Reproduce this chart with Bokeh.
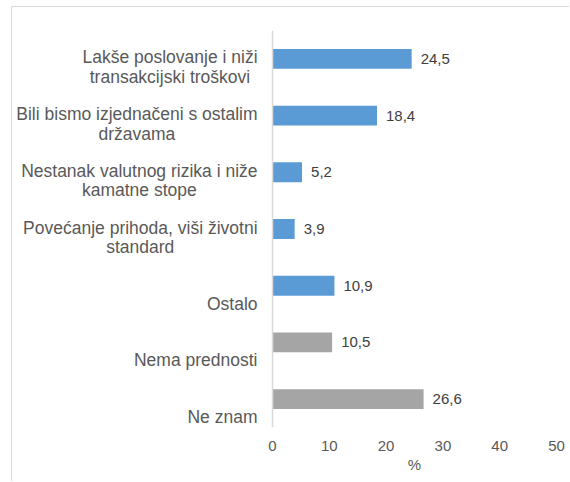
from bokeh.plotting import figure
from bokeh.models import ColumnDataSource, Range1d, FixedTicker, LinearAxis, Span
from bokeh.embed import file_html
from bokeh.resources import INLINE
from bokeh.core.properties import value

# ---- data ----
categories = [
    "Lakše poslovanje i niži\ntransakcijski troškovi",
    "Bili bismo izjednačeni s ostalim\ndržavama",
    "Nestanak valutnog rizika i niže\nkamatne stope",
    "Povećanje prihoda, viši životni\nstandard",
    "Ostalo",
    "Nema prednosti",
    "Ne znam",
]
values = [24.5, 18.4, 5.2, 3.9, 10.9, 10.5, 26.6]
groups = ["adv", "adv", "adv", "adv", "adv", "none", "none"]
x_ticks = [0, 10, 20, 30, 40, 50]
x_label = "%"

# ---- styles ----
COLORS = {"adv": "#5B9BD5", "none": "#A5A5A5"}
FONT = "Liberation Sans"
CAT_FS = 17.5
TXT = "#595959"

# approximate Arial / Liberation Sans advance widths (1/1000 em) for line centering
W_TAB = {" ": 278, ",": 278, "a": 556, "b": 556, "c": 500, "d": 556, "e": 556, "f": 278,
         "g": 556, "h": 556, "i": 222, "j": 222, "k": 500, "l": 222, "m": 833, "n": 556,
         "o": 556, "p": 556, "q": 556, "r": 333, "s": 500, "t": 278, "u": 556, "v": 500,
         "w": 722, "x": 500, "y": 500, "z": 500, "č": 500, "ć": 500, "š": 500, "ž": 500,
         "B": 667, "L": 556, "N": 722, "O": 778, "P": 667}


def text_width(s, fs):
    return sum(W_TAB.get(ch, 556) for ch in s) / 1000.0 * fs


# ---- layout (pixels) ----
W, H = 558, 475
AXIS_PX = 260          # screen x of value 0 inside the canvas
FRAME_RIGHT = 544      # screen x of last tick
px_per_unit = (FRAME_RIGHT - AXIS_PX) / (x_ticks[-1] - x_ticks[0])
x_start = x_ticks[0] - AXIS_PX / px_per_unit

pos = list(range(len(categories)))
src = ColumnDataSource(dict(
    pos=pos,
    value=values,
    color=[COLORS[g] for g in groups],
    vlabel=[f"{v:.1f}".replace(".", ",") for v in values],
))

# category label lines (centered within a right-aligned block)
lx, ly, lt, lxo, lyo = [], [], [], [], []
for i, cat in enumerate(categories):
    lines = cat.split("\n")
    n = len(lines)
    block_w = max(text_width(s, CAT_FS) for s in lines)
    for j, s in enumerate(lines):
        lx.append(0)
        ly.append(pos[i])
        lt.append(s)
        lxo.append(-15 - block_w / 2.0)
        lyo.append(18 - (n - 1 - j) * 19.5)
lab_src = ColumnDataSource(dict(x=lx, y=ly, text=lt, xo=lxo, yo=lyo))

p = figure(width=W, height=H, output_backend="svg", toolbar_location=None,
           x_range=Range1d(x_start, x_ticks[-1]),
           y_range=Range1d(len(categories) - 0.5, -0.5),
           min_border_left=0, min_border_right=W - FRAME_RIGHT,
           min_border_top=23, min_border_bottom=55,
           background_fill_color="white", border_fill_color="white")
p.styles = {"margin-left": "11px", "margin-top": "6px",
            "border-left": "1px solid #D9D9D9", "border-top": "1px solid #D9D9D9"}
p.outline_line_color = None
p.grid.visible = False
p.yaxis.visible = False

p.hbar(y="pos", left=0, right="value", height=0.35, fill_color="color",
       line_color=None, source=src)

p.add_layout(Span(location=0, dimension="height", line_color="#D9D9D9", line_width=1.5))

p.text(x="value", y="pos", text="vlabel", x_offset=9, text_baseline="middle",
       text_align="left", text_font=value(FONT), text_font_size="15px",
       text_color="#404040", source=src)

p.text(x="x", y="y", text="text", x_offset="xo", y_offset="yo",
       text_align="center", text_baseline="middle",
       text_font=value(FONT), text_font_size=f"{CAT_FS}px",
       text_color=TXT, source=lab_src)

xa = p.xaxis[0]
xa.ticker = FixedTicker(ticks=x_ticks)
xa.axis_line_color = None
xa.major_tick_line_color = None
xa.minor_tick_line_color = None
xa.major_label_standoff = 7
xa.major_label_text_font = FONT
xa.major_label_text_font_size = "15px"
xa.major_label_text_color = TXT

mid = (x_ticks[0] + x_ticks[-1]) / 2
xa2 = LinearAxis(ticker=FixedTicker(ticks=[mid]), major_label_overrides={mid: x_label})
xa2.axis_line_color = None
xa2.major_tick_line_color = None
xa2.minor_tick_line_color = None
xa2.major_label_standoff = -4
xa2.major_label_text_font = FONT
xa2.major_label_text_font_size = "15px"
xa2.major_label_text_color = TXT
p.add_layout(xa2, "below")

open("out.html", "w").write(file_html(p, INLINE))
